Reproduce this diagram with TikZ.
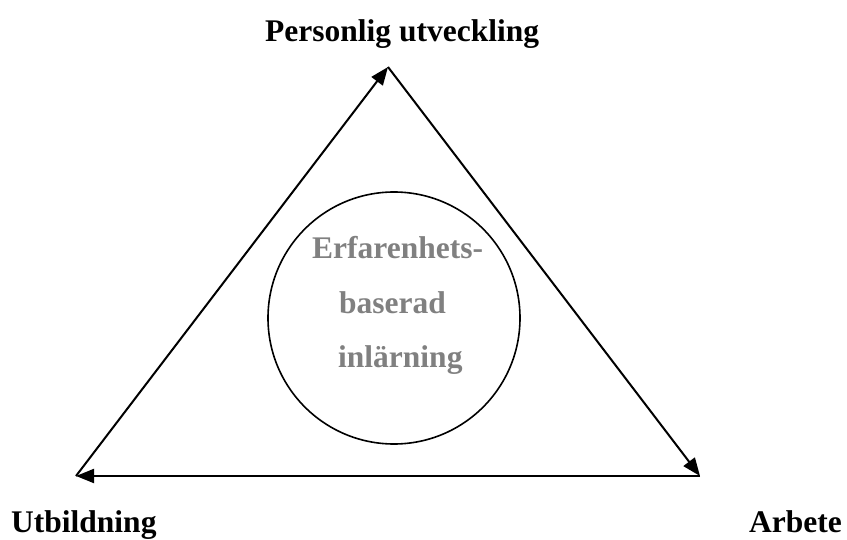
\documentclass[tikz,border=0pt]{standalone}
\usepackage{fontspec}
\setmainfont{Liberation Serif}
\usetikzlibrary{arrows.meta}
\begin{document}
\begin{tikzpicture}[x=1pt,y=-1pt,
  edge/.style={line width=2pt,-{Triangle[length=18pt,width=14pt]}},
  label/.style={font=\fontsize{31.5}{36}\selectfont\bfseries,inner sep=0pt,anchor=base west},
  inner/.style={label,text=black!50}]
  \useasboundingbox (0,0) rectangle (847,540);
  % corners of the triangle
  \coordinate (top) at (388,67);
  \coordinate (left) at (76,476);
  \coordinate (right) at (700,476);
  % corner labels
  \node[label] (pu) at (265,42) {Personlig utveckling};
  \node[label] (ut) at (11,532) {Utbildning};
  \node[label] (ar) at (749,532) {Arbete};
  % central circle
  \node[draw,circle,line width=1.6pt,minimum size=252pt,inner sep=0pt] (c) at (394,318) {};
  \node[inner] (l1) at (312,259) {Erfarenhets-};
  \node[inner] (l2) at (339,314) {baserad};
  \node[inner] (l3) at (338,367) {inlärning};
  % cycle of arrows
  \draw[edge] (left) -- (top);
  \draw[edge] (top) -- (right);
  \draw[edge] (right) -- (left);
\end{tikzpicture}
\end{document}
